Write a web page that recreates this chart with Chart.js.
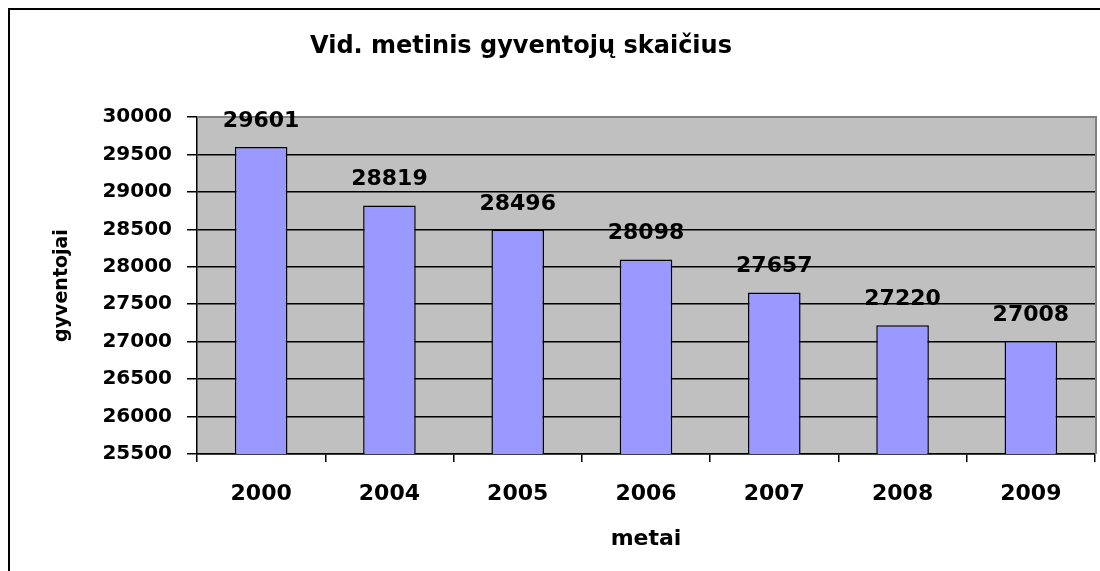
<!DOCTYPE html>
<html>
<head>
<meta charset="utf-8">
<script src="https://cdn.jsdelivr.net/npm/chart.js@4"></script>
<style>
  body { margin: 0; background: #fff; }
</style>
</head>
<body>
<canvas id="myChart" width="1100" height="571"></canvas>
<script>
var chartTitle = 'Vid. metinis gyventojų skaičius';
var years = ["2000", "2004", "2005", "2006", "2007", "2008", "2009"];
var residents = [29601, 28819, 28496, 28098, 27657, 27220, 27008];
var yMin = 25500;
var yMax = 30000;
var yStep = 500;

// grey plot area, outer frame, plot border and the title (sits a bit left of centre)
var frame = {
    id: 'frame',
    beforeDraw: function(chart) {
        var ctx = chart.ctx, a = chart.chartArea;
        ctx.save();
        ctx.fillStyle = '#C0C0C0';
        ctx.fillRect(a.left, a.top, a.right - a.left, a.bottom - a.top);
        ctx.fillStyle = '#000';
        ctx.fillRect(8, 8, 1092, 2);
        ctx.fillRect(8, 8, 2, 563);
        ctx.font = 'bold 24px "DejaVu Sans"';
        ctx.textAlign = 'center';
        ctx.textBaseline = 'alphabetic';
        ctx.fillText(chartTitle, 521, 53);
        ctx.restore();
    },
    beforeDatasetsDraw: function(chart) {
        var ctx = chart.ctx, a = chart.chartArea;
        ctx.save();
        ctx.fillStyle = '#808080';
        ctx.fillRect(a.left, a.top - 1, a.right - a.left + 2, 2);
        ctx.fillRect(a.right, a.top - 1, 2, a.bottom - a.top + 1);
        ctx.restore();
    }
};

// value labels above the bars
var valueLabels = {
    id: 'valueLabels',
    afterDatasetsDraw: function(chart) {
        var ctx = chart.ctx;
        var meta = chart.getDatasetMeta(0);
        ctx.save();
        ctx.font = 'bold 22px "DejaVu Sans"';
        ctx.fillStyle = '#000';
        ctx.textAlign = 'center';
        ctx.textBaseline = 'alphabetic';
        meta.data.forEach(function(bar, i) {
            ctx.fillText(String(residents[i]), bar.x, bar.y - 20);
        });
        ctx.restore();
    }
};

Chart.defaults.font.family = '"DejaVu Sans"';
Chart.defaults.color = '#000';

var myChart = new Chart(document.getElementById('myChart'), {
    type: 'bar',
    data: {
        labels: years,
        datasets: [{
            label: 'gyventojai',
            data: residents,
            backgroundColor: '#9999FF',
            borderColor: '#000',
            borderWidth: 1.5,
            borderSkipped: false,
            categoryPercentage: 1,
            barPercentage: 0.41
        }]
    },
    options: {
        responsive: false,
        animation: false,
        layout: { padding: { left: 0, right: 5, top: 117, bottom: 0 } },
        plugins: {
            legend: { display: false },
            tooltip: { enabled: false },
            title: { display: false }
        },
        scales: {
            x: {
                afterFit: function(scale) { scale.height = 117; },
                grid: {
                    offset: true,
                    drawOnChartArea: false,
                    drawTicks: true,
                    tickLength: 8,
                    color: '#000',
                    lineWidth: 1.5
                },
                border: { display: true, color: '#000', width: 1.5 },
                ticks: {
                    font: { size: 22, weight: 'bold' },
                    padding: 19,
                    maxRotation: 0
                },
                title: {
                    display: true,
                    text: 'metai',
                    font: { size: 22, weight: 'bold' },
                    padding: { top: 0, bottom: 19 }
                }
            },
            y: {
                min: yMin,
                max: yMax,
                afterFit: function(scale) { scale.width = 197; },
                grid: {
                    color: function(c) { return c.tick && c.tick.value === yMax ? '#808080' : '#000'; },
                    tickColor: '#000',
                    lineWidth: 1.5,
                    tickLength: 10
                },
                border: { display: true, color: '#000', width: 1.5 },
                ticks: {
                    stepSize: yStep,
                    font: { size: 20, weight: 'bold' },
                    padding: 15,
                    callback: function(v) { return String(v); }
                },
                title: {
                    display: true,
                    text: 'gyventojai',
                    font: { size: 19, weight: 'bold' },
                    padding: { top: 51, bottom: 0 }
                }
            }
        }
    },
    plugins: [frame, valueLabels]
});
</script>
</body>
</html>
